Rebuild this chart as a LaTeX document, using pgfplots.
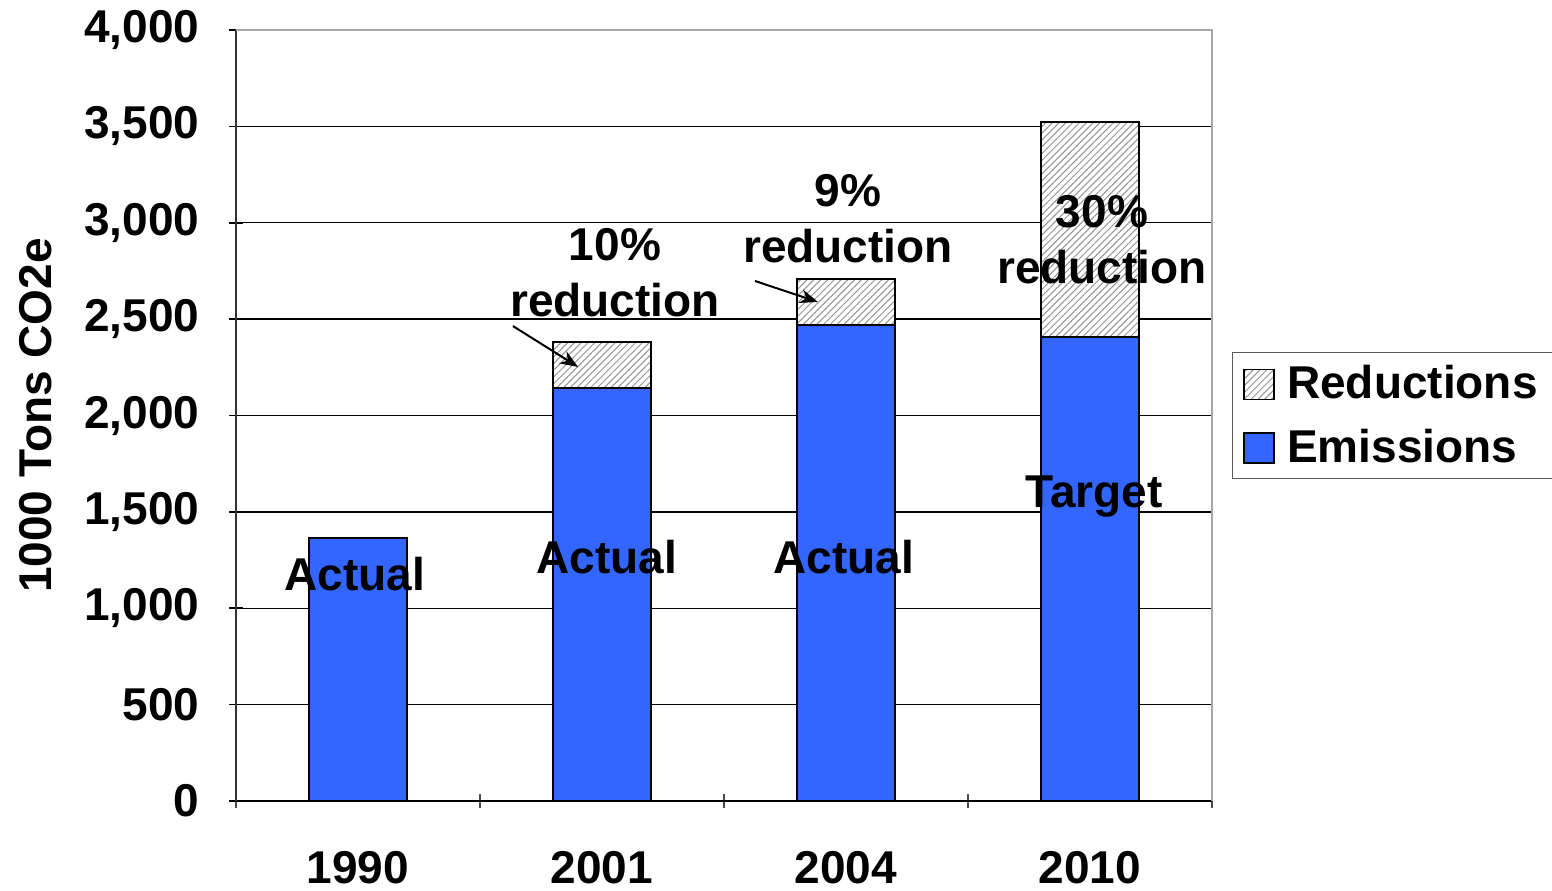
\documentclass[border=0pt]{standalone}
\usepackage{fontspec}
\setmainfont{Liberation Sans}
\usepackage{pgfplots}
\pgfplotsset{compat=1.18}
\usetikzlibrary{patterns,patterns.meta,arrows.meta}
\definecolor{emis}{RGB}{51,102,255}
\newcommand\cf{\fontsize{23}{28}\selectfont\bfseries}

\begin{document}
\begin{tikzpicture}
\begin{axis}[
    at={(0,0)}, anchor=south west,
    width=488pt, height=385.5pt, scale only axis,
    ybar stacked, bar width=49pt,
    xmin=-0.5, xmax=3.5, ymin=0, ymax=4000,
    xtick={0,1,2,3}, xticklabels={1990,2001,2004,2010},
    minor xtick={-0.5,0.5,1.5,2.5,3.5},
    ytick={0,500,...,4000},
    tick align=outside, major tick length=7pt, minor tick length=7pt,
    major x tick style={draw=none},
    minor x tick style={draw=gray!60!black, line width=0.8pt},
    y tick style={draw=black, line width=0.8pt},
    ymajorgrids, grid style={black, line width=0.7pt},
    axis lines=left, axis line style={-},
    x axis line style={black, line width=0.8pt},
    y axis line style={gray!40!black, line width=0.9pt},
    ticklabel style={font=\cf},
    xticklabel style={yshift=-18pt},
    yticklabel style={xshift=-11.3pt},
    /pgf/number format/assume math mode=true,
    /pgf/number format/1000 sep={,},
    ylabel={1000 Tons CO2e},
    every axis y label/.style={at={(axis description cs:0,0.5)}, xshift=-100pt, rotate=90, anchor=center, font=\cf},
    clip=false,
    reverse legend,
    legend style={at={(1.0205,0.5824)}, anchor=north west, draw=gray!70!black,
        font=\cf, inner xsep=5.5pt, inner ysep=4.5pt, row sep=9.5pt},
    legend cell align=left,
    legend image code/.code={\draw[#1, line width=0.8pt] (0pt,-8pt) rectangle (15pt,7pt); \path (19pt,0pt);},
]
\addplot[draw=black, line width=1pt, fill=emis]
    coordinates {(0,1364) (1,2143) (2,2470) (3,2407)};
\addplot[draw=black, line width=1pt, fill=white,
    postaction={pattern={Lines[angle=45, distance=2.4pt, line width=0.5pt]}, pattern color=gray!85}]
    coordinates {(0,0) (1,238) (2,238) (3,1116)};
\legend{Emissions, Reductions}

\coordinate (r1) at (axis cs:1.053,2739);
\coordinate (r2) at (axis cs:2.008,3019);
\coordinate (r3) at (axis cs:3.049,2911);
\coordinate (a0) at (axis cs:-0.012,1178);
\coordinate (a1) at (axis cs:1.02,1266);
\coordinate (a2) at (axis cs:1.99,1266);
\coordinate (t3) at (axis cs:3.016,1577);
\coordinate (p1) at (axis cs:0.635,2464);
\coordinate (q1) at (axis cs:0.902,2252);
\coordinate (p2) at (axis cs:1.627,2698);
\coordinate (q2) at (axis cs:1.885,2589);
\draw[gray!70, line width=1pt] (rel axis cs:0,1) -- (rel axis cs:1,1) -- (rel axis cs:1,0);
\end{axis}
\node[font=\cf, align=center] at (r1) {10\%\\reduction};
\node[font=\cf, align=center] at (r2) {9\%\\reduction};
\node[font=\cf, align=center] at (r3) {30\%\\reduction};
\node[font=\cf] at (a0) {Actual};
\node[font=\cf] at (a1) {Actual};
\node[font=\cf] at (a2) {Actual};
\node[font=\cf] at (t3) {Target};
\draw[-{Stealth[length=9pt,width=7pt]}, line width=1pt] (p1) -- (q1);
\draw[-{Stealth[length=9pt,width=7pt]}, line width=1pt] (p2) -- (q2);
\pgfresetboundingbox
\path[use as bounding box] (-118pt,-44.5pt) rectangle (658pt,400.5pt);
\end{tikzpicture}
\end{document}
